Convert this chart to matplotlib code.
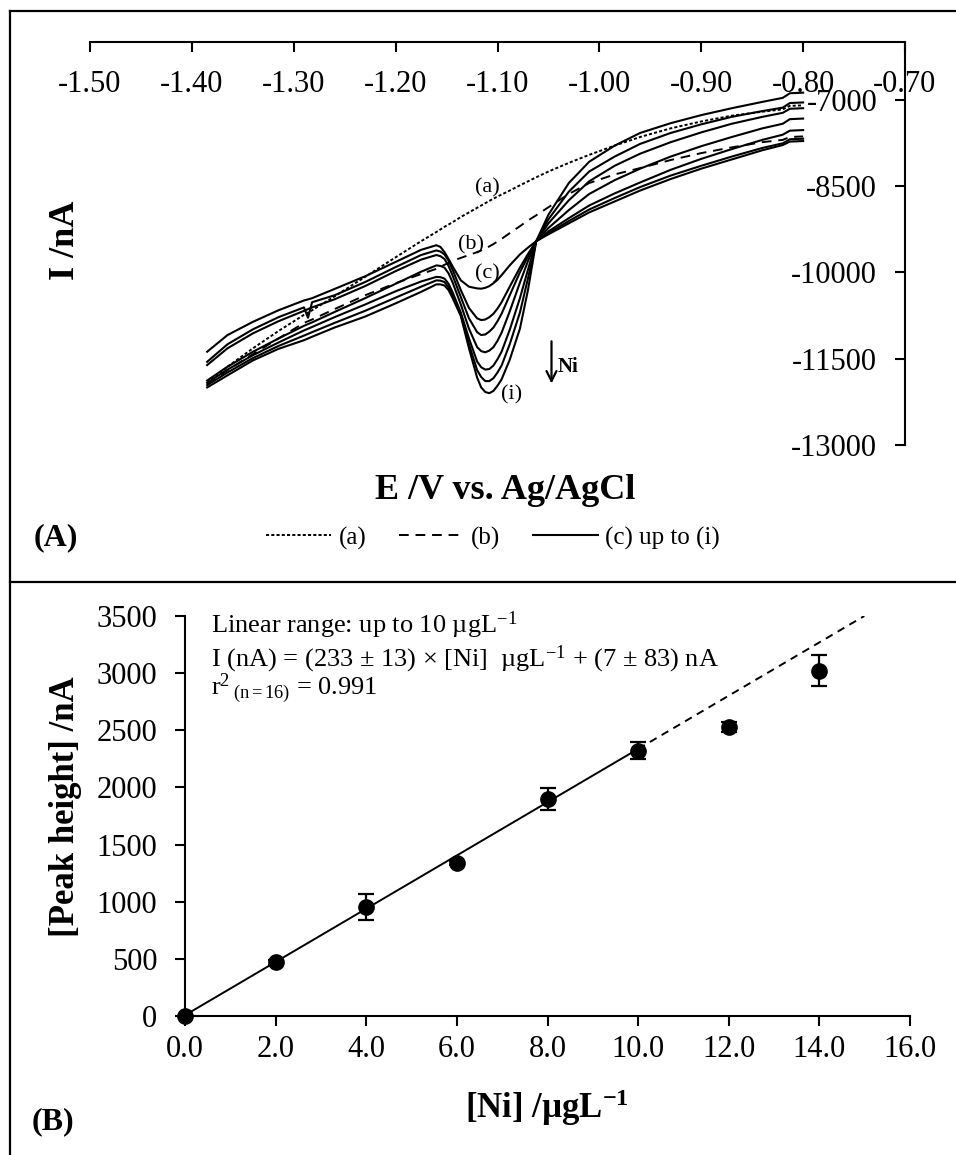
import matplotlib
matplotlib.use("Agg")
import matplotlib.pyplot as plt
from matplotlib.lines import Line2D
import numpy as np

plt.rcParams['font.family'] = 'Liberation Serif'
plt.rcParams['mathtext.fontset'] = 'custom'
plt.rcParams['mathtext.rm'] = 'Liberation Serif'
plt.rcParams['mathtext.it'] = 'Liberation Serif:italic'
plt.rcParams['mathtext.bf'] = 'Liberation Serif:bold'
plt.rcParams['axes.unicode_minus'] = False

# --- (A) voltammograms: potential grid (V) and current (nA) for each scan ---
E = [-1.385, -1.365, -1.340, -1.315, -1.290, -1.286, -1.282, -1.260, -1.230, -1.200,
     -1.175, -1.160, -1.156, -1.152, -1.148, -1.144, -1.136, -1.128, -1.120, -1.116,
     -1.112, -1.108, -1.104, -1.100, -1.096, -1.088, -1.078, -1.070, -1.062, -1.050,
     -1.030, -1.010, -0.985, -0.960, -0.930, -0.900, -0.870, -0.840, -0.820, -0.813,
     -0.800]

I_a = [-11920, -11640, -11320, -11020, -10740, -10700, -10660, -10420, -10080, -9740,
       -9460, -9300, -9255, -9210, -9170, -9130, -9040, -8960, -8880, -8840,
       -8800, -8760, -8720, -8685, -8650, -8580, -8490, -8420, -8350, -8250,
       -8100, -7960, -7800, -7650, -7500, -7380, -7280, -7210, -7170, -7110,
       -7100]
I_b = [-11950, -11700, -11420, -11150, -10880, -10850, -10820, -10640, -10400, -10190,
       -10030, -9940, -9905, -9870, -9835, -9800, -9750, -9700, -9650, -9620,
       -9590, -9550, -9510, -9465, -9420, -9320, -9200, -9100, -9010, -8870,
       -8640, -8450, -8300, -8190, -8050, -7930, -7830, -7740, -7700, -7650,
       -7640]
I_c = [-11380, -11090, -10860, -10660, -10490, -10470, -10450, -10290, -10070, -9820,
       -9610, -9530, -9560, -9650, -9770, -9900, -10140, -10250, -10280, -10285,
       -10270, -10240, -10190, -10130, -10050, -9880, -9690, -9570, -9460, -9340,
       -9150, -8960, -8770, -8580, -8380, -8200, -8040, -7880, -7790, -7730,
       -7720]
I_d = [-11555, -11250, -10990, -10780, -10610, -10790, -10520, -10400, -10170, -9910,
       -9700, -9620, -9640, -9690, -9800, -9960, -10310, -10620, -10800, -10830,
       -10820, -10780, -10720, -10630, -10520, -10250, -9920, -9680, -9460, -9320,
       -9110, -8910, -8710, -8520, -8320, -8150, -7990, -7840, -7760, -7690,
       -7680]
I_e = [-11612, -11320, -11060, -10850, -10670, -10640, -10610, -10470, -10240, -9980,
       -9780, -9700, -9720, -9770, -9890, -10060, -10430, -10800, -11040, -11090,
       -11080, -11030, -10960, -10850, -10720, -10400, -10000, -9720, -9460, -9290,
       -9060, -8840, -8630, -8440, -8220, -8030, -7860, -7700, -7610, -7540,
       -7530]
I_f = [-11880, -11640, -11380, -11150, -10930, -10900, -10870, -10690, -10450, -10200,
       -9990, -9880, -9890, -9920, -10020, -10180, -10560, -10980, -11300, -11370,
       -11390, -11360, -11300, -11190, -11050, -10680, -10180, -9800, -9460, -9230,
       -8920, -8640, -8400, -8200, -7990, -7810, -7650, -7500, -7420, -7340,
       -7330]
I_g = [-11920, -11690, -11440, -11220, -11010, -10980, -10950, -10780, -10560, -10330,
       -10160, -10080, -10085, -10110, -10200, -10350, -10700, -11150, -11550, -11650,
       -11690, -11680, -11620, -11510, -11380, -11000, -10450, -9950, -9460, -9150,
       -8750, -8420, -8150, -7940, -7740, -7570, -7420, -7300, -7230, -7160,
       -7150]
I_h = [-11960, -11740, -11490, -11280, -11100, -11070, -11040, -10880, -10670, -10440,
       -10250, -10140, -10145, -10170, -10260, -10410, -10740, -11250, -11700, -11820,
       -11890, -11890, -11840, -11740, -11620, -11250, -10700, -10100, -9460, -9080,
       -8600, -8250, -7990, -7770, -7580, -7430, -7300, -7200, -7140, -7060,
       -7050]
I_i = [-12000, -11790, -11530, -11330, -11180, -11150, -11120, -10960, -10770, -10540,
       -10340, -10210, -10210, -10230, -10310, -10450, -10760, -11320, -11830, -12000,
       -12080, -12100, -12060, -11970, -11860, -11520, -10980, -10300, -9460, -9000,
       -8450, -8080, -7800, -7580, -7410, -7270, -7150, -7040, -6970, -6890,
       -6880]

E_ticks = [-1.50, -1.40, -1.30, -1.20, -1.10, -1.00, -0.90, -0.80, -0.70]
I_ticks = [-13000, -11500, -10000, -8500, -7000]

# --- (B) calibration ---
conc = [0, 2, 4, 6, 8, 10, 12, 14]
peak = [0, 470, 955, 1340, 1900, 2320, 2530, 3020]
peak_sd = [0, 20, 115, 20, 95, 75, 45, 135]
slope = 233
intercept = 7
lin_max = 10
conc_ticks = [0, 2, 4, 6, 8, 10, 12, 14, 16]
peak_ticks = [0, 500, 1000, 1500, 2000, 2500, 3000, 3500]

W, H = 956, 1155
fig = plt.figure(figsize=(W / 100, H / 100), dpi=100)


def fx(px):
    return px / W


def fy(py):
    return 1 - py / H


# frame around the two panels
for xs, ys in [([fx(10), 1], [fy(11), fy(11)]),
               ([fx(10), fx(10)], [0, fy(11)]),
               ([fx(10), 1], [fy(582), fy(582)])]:
    fig.add_artist(Line2D(xs, ys, transform=fig.transFigure, color='black', lw=1.6))

# ---------------- panel A ----------------
axA = fig.add_axes([fx(90), fy(445), fx(905) - fx(90), fy(42) - fy(445)])
la, = axA.plot(E, I_a, color='black', lw=1.4, linestyle=(0, (1.6, 1.1)))
lb, = axA.plot(E, I_b, color='black', lw=1.4, linestyle=(0, (5, 3.5)))
for I in [I_c, I_d, I_e, I_f, I_g, I_h, I_i]:
    lc, = axA.plot(E, I, color='black', lw=1.5, solid_joinstyle='round')

axA.set_xlim(-1.5, -0.7)
axA.set_ylim(-13000, -6000)
axA.spines['top'].set_visible(False)
axA.spines['right'].set_visible(False)
axA.spines['bottom'].set_position(('axes', 1.0))
axA.spines['left'].set_position(('axes', 1.0))
for s in ['bottom', 'left']:
    axA.spines[s].set_linewidth(1.5)
axA.set_xticks(E_ticks)
axA.set_xticklabels([f"{v:.2f}" for v in E_ticks])
axA.set_yticks(I_ticks)
axA.set_yticklabels([str(v) for v in I_ticks])
axA.tick_params(direction='out', length=7, width=1.5, labelsize=22, pad=13)

axA.text(-1.110, -8530, '(a)', fontsize=16, ha='center', va='center')
axA.text(-1.126, -9520, '(b)', fontsize=16, ha='center', va='center')
axA.text(-1.110, -10020, '(c)', fontsize=16, ha='center', va='center')
axA.text(-1.086, -12130, '(i)', fontsize=16, ha='center', va='center')
axA.annotate('', xy=(-1.047, -11980), xytext=(-1.047, -11150),
             arrowprops=dict(arrowstyle='->', lw=1.6, color='black',
                             mutation_scale=18))
axA.text(-1.041, -11640, 'Ni', fontsize=15, fontweight='bold', ha='left', va='center')

fig.text(fx(65), fy(240), 'I /nA', rotation=90, fontsize=26, fontweight='bold',
         ha='center', va='center')
fig.text(fx(505), fy(490), 'E /V vs. Ag/AgCl', fontsize=26, fontweight='bold',
         ha='center', va='center')
fig.text(fx(56), fy(538), '(A)', fontsize=23, fontweight='bold', ha='center', va='center')
fig.legend([la, lb, lc], ['(a)', '(b)', '(c) up to (i)'], loc='center',
           bbox_to_anchor=(fx(493), fy(538)), ncol=3, frameon=False, fontsize=18,
           handlelength=2.6, handletextpad=0.3, columnspacing=1.3)

# ---------------- panel B ----------------
axB = fig.add_axes([fx(185), fy(1016), fx(910) - fx(185), fy(616) - fy(1016)])
fit_x = np.array([0, lin_max])
ext_x = np.array([lin_max, (peak_ticks[-1] - intercept) / slope])
axB.plot(fit_x, slope * fit_x + intercept, color='black', lw=1.4)
axB.plot(ext_x, slope * ext_x + intercept, color='black', lw=1.4, linestyle=(0, (4, 3)))
axB.errorbar(conc, peak, yerr=peak_sd, fmt='o', color='black', ms=11, capsize=6,
             elinewidth=1.6, capthick=1.6, zorder=3, clip_on=False)

axB.set_xlim(0, 16)
axB.set_ylim(0, 3500)
axB.spines['top'].set_visible(False)
axB.spines['right'].set_visible(False)
for s in ['bottom', 'left']:
    axB.spines[s].set_linewidth(1.5)
axB.set_xticks(conc_ticks)
axB.set_xticklabels([f"{v:.1f}" for v in conc_ticks])
axB.set_yticks(peak_ticks)
axB.set_yticklabels([str(v) for v in peak_ticks])
axB.tick_params(direction='out', length=7, width=1.5, labelsize=22)
axB.tick_params(axis='x', pad=7)
axB.tick_params(axis='y', pad=13)

axB.text(0.57, 3351, 'Linear range: up to 10 µgL$^{-1}$', fontsize=19, va='baseline')
axB.text(0.57, 3062, 'I (nA) = (233 ± 13) × [Ni]  µgL$^{-1}$ + (7 ± 83) nA',
         fontsize=19, va='baseline')
axB.text(0.57, 2809, 'r$^{2}\\,{}_{\\mathrm{(n{=}16)}}$ = 0.991', fontsize=19,
         va='baseline')

fig.text(fx(66), fy(807), '[Peak height] /nA', rotation=90, fontsize=25,
         fontweight='bold', ha='center', va='center')
fig.text(fx(547), fy(1108), '[Ni] /µgL$^{\\mathbf{-1}}$', fontsize=25,
         fontweight='bold', ha='center', va='center')
fig.text(fx(53), fy(1122), '(B)', fontsize=23, fontweight='bold', ha='center', va='center')

fig.savefig('out.png', dpi=100)
